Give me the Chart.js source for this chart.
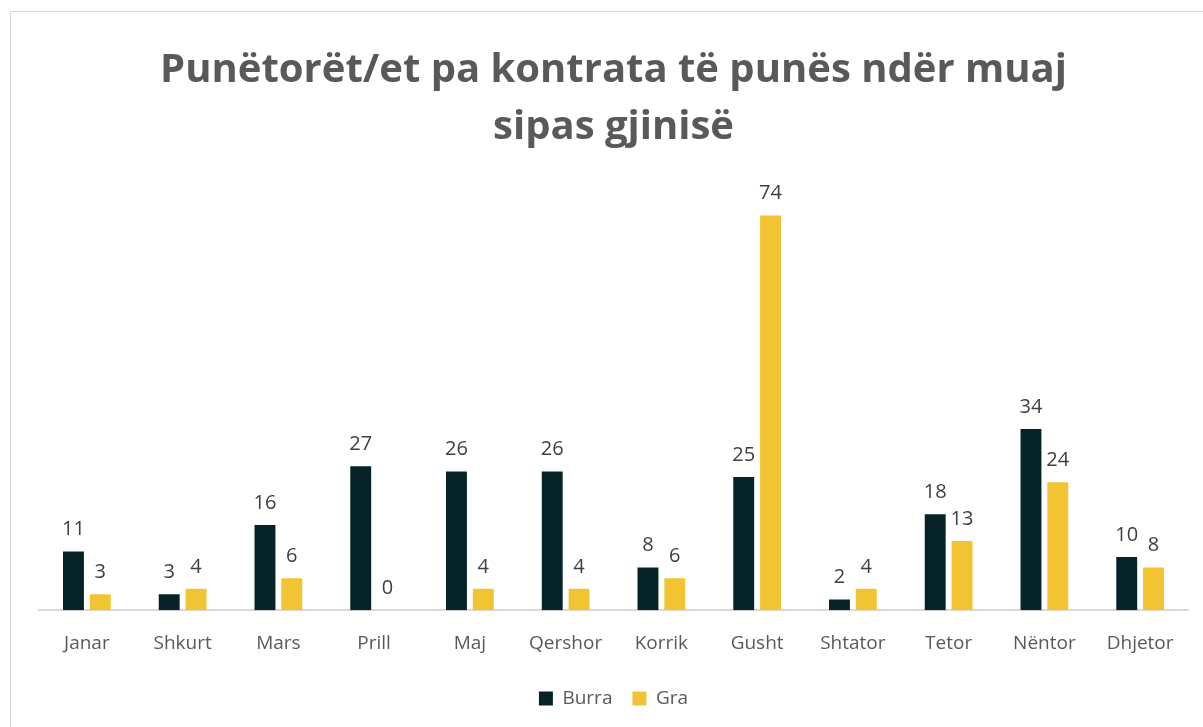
<!DOCTYPE html>
<html>
<head>
<meta charset="utf-8">
<script src="https://cdn.jsdelivr.net/npm/chart.js@4"></script>
<style>
  html, body { margin: 0; padding: 0; background: #fff; overflow: hidden; }
  #box {
    position: absolute; left: 10px; top: 11px;
    width: 1192px; height: 715px;
    border-left: 1px solid #d9d9d9; border-top: 1px solid #d9d9d9;
  }
</style>
</head>
<body>
<div id="box"><canvas id="chart"></canvas></div>
<script>
// months (Albanian)
const months = ["Janar", "Shkurt", "Mars", "Prill", "Maj", "Qershor", "Korrik", "Gusht", "Shtator", "Tetor", "Nëntor", "Dhjetor"];
const burra = [11, 3, 16, 27, 26, 26, 8, 25, 2, 18, 34, 10];
const gra = [3, 4, 6, 0, 4, 4, 6, 74, 4, 13, 24, 8];

// --- value labels above each bar ---
const barLabels = {
  id: "barLabels",
  afterDatasetsDraw(chart) {
    const ctx = chart.ctx;
    ctx.save();
    ctx.font = "20px 'Open Sans', sans-serif";
    ctx.fillStyle = "#404040";
    ctx.textAlign = "center";
    ctx.textBaseline = "bottom";
    chart.data.datasets.forEach((ds, i) => {
      chart.getDatasetMeta(i).data.forEach((bar, j) => {
        ctx.fillText(ds.data[j], bar.x, bar.y - 12);
      });
    });
    ctx.restore();
  }
};

new Chart(document.getElementById("chart"), {
  type: "bar",
  data: {
    labels: months,
    datasets: [
      { label: "Burra", data: burra, backgroundColor: "#062428" },
      { label: "Gra", data: gra, backgroundColor: "#F2C433" }
    ]
  },
  options: {
    responsive: true,
    maintainAspectRatio: false,
    animation: false,
    categoryPercentage: 0.56,
    barPercentage: 0.78,
    layout: { padding: { left: 28, right: 15, top: 30, bottom: 9 } },
    plugins: {
      title: {
        display: true,
        text: ["Punëtorët/et pa kontrata të punës ndër muaj", "sipas gjinisë"],
        color: "#595959",
        font: { family: "'Open Sans', sans-serif", size: 40, weight: "bold", lineHeight: 1.42 },
        padding: { top: 0, bottom: 28 }
      },
      legend: {
        position: "bottom",
        labels: {
          color: "#595959",
          font: { family: "'Open Sans', sans-serif", size: 19 },
          boxWidth: 14, boxHeight: 14, padding: 20
        }
      },
      tooltip: { enabled: false }
    },
    scales: {
      y: { display: false, min: 0, max: 80 },
      x: {
        grid: { display: false },
        border: { color: "#d9d9d9", width: 2 },
        ticks: {
          color: "#595959",
          font: { family: "'Open Sans', sans-serif", size: 19 },
          padding: 14
        }
      }
    }
  },
  plugins: [barLabels]
});
</script>
</body>
</html>
